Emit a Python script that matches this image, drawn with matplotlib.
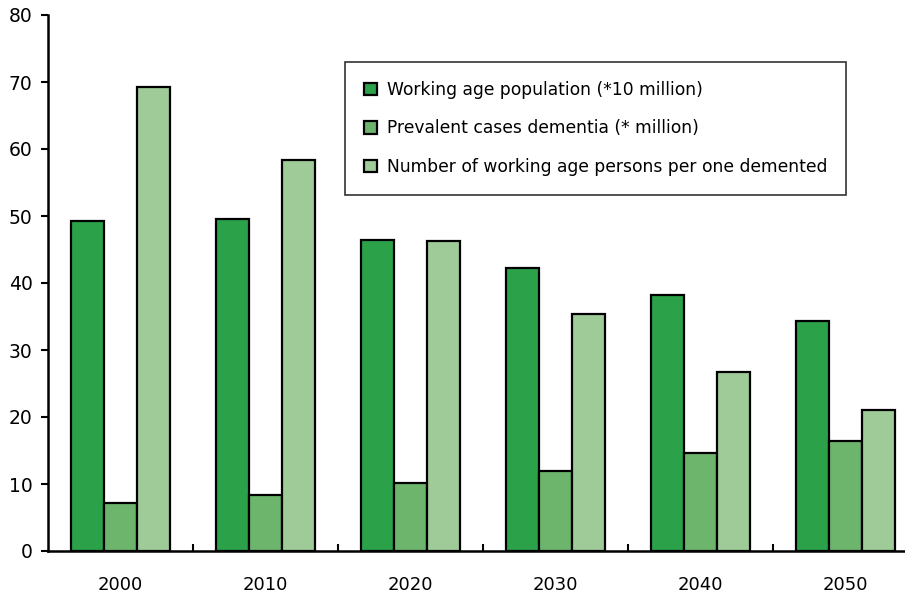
import numpy as np
import matplotlib.pyplot as plt

years = ["2000", "2010", "2020", "2030", "2040", "2050"]
working_age = [49.3, 49.5, 46.4, 42.2, 38.2, 34.3]
dementia = [7.1, 8.4, 10.2, 12.0, 14.6, 16.4]
per_demented = [69.3, 58.4, 46.2, 35.4, 26.7, 21.1]

labels = ["Working age population (*10 million)",
          "Prevalent cases dementia (* million)",
          "Number of working age persons per one demented"]
colors = ["#2ba24a", "#6db56d", "#9fcb98"]

fig = plt.figure(figsize=(9.05, 6.01), dpi=100)
ax = fig.add_axes([48 / 905, 50 / 601, 857 / 905, 536 / 601])

x = np.arange(len(years))
w = 0.228
for i, vals in enumerate([working_age, dementia, per_demented]):
    ax.bar(x + (i - 1) * w, vals, w, color=colors[i], edgecolor="black",
           linewidth=1.6, label=labels[i])

ax.set_xlim(-0.5, 5.41)
ax.set_ylim(0, 80)
ax.set_yticks(range(0, 81, 10))
ax.set_xticks(x)
ax.set_xticklabels(years)
ax.set_xticks(x[:-1] + 0.5, minor=True)
ax.tick_params(axis="x", which="major", length=0, pad=18, labelsize=13)
ax.tick_params(axis="x", which="minor", direction="in", length=5, width=1.5)
ax.tick_params(axis="y", length=5, width=1.5, labelsize=13.5, pad=6)

ax.spines["top"].set_visible(False)
ax.spines["right"].set_visible(False)
ax.spines["left"].set_linewidth(1.8)
ax.spines["bottom"].set_linewidth(1.8)

leg = ax.legend(loc="upper left", bbox_to_anchor=(297 / 857, 1 - 47 / 536),
                fontsize=12.3, frameon=True, fancybox=False, edgecolor="black",
                handlelength=0.75, handleheight=0.75, handletextpad=0.6,
                labelspacing=1.2, borderpad=1.1, borderaxespad=0)
leg.get_frame().set_linewidth(1.2)

fig.savefig("out.png", dpi=100)
